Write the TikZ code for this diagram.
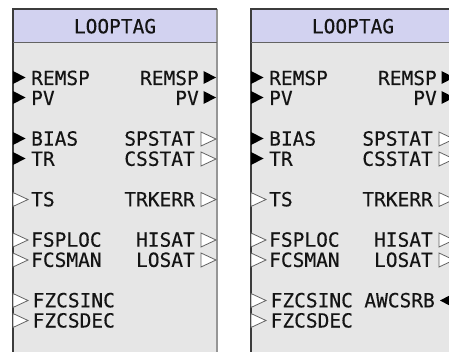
\documentclass[tikz,border=0pt]{standalone}
\usepackage{fontspec}
\newfontfamily\blockfont[FakeBold=0.3]{DejaVu Sans Mono}
\definecolor{hdrcol}{RGB}{210,210,240}
\definecolor{bodycol}{RGB}{230,230,230}
\definecolor{edgedark}{RGB}{60,60,60}
\definecolor{edgelight}{RGB}{150,150,150}
\definecolor{markgray}{RGB}{100,100,100}
\tikzset{
  lbl/.style={font=\blockfont\fontsize{19.5}{19.5}\selectfont, inner sep=0pt, text=black!92},
  inlbl/.style={lbl, anchor=base west},
  outlbl/.style={lbl, anchor=base east},
  titlelbl/.style={lbl, anchor=base},
  fullmark/.style={fill=black, draw=none},
  openmark/.style={fill=white, draw=markgray, line width=0.8pt, line join=miter},
}
\newcommand{\finmark}[1]{\path[fullmark] (0,#1-6.5) -- (12.5,#1) -- (0,#1+6.5) -- cycle;}
\newcommand{\oinmark}[1]{\path[openmark] (0,#1-7) -- (15,#1) -- (0,#1+7) -- cycle;}
\newcommand{\foutmark}[1]{\path[fullmark] (190.5,#1-6.5) -- (203,#1) -- (190.5,#1+6.5) -- cycle;}
\newcommand{\ooutmark}[1]{\path[openmark] (188,#1-7) -- (203,#1) -- (188,#1+7) -- cycle;}
\begin{document}
\begin{tikzpicture}[x=1pt,y=-1pt]
\clip (0,0) rectangle (449,352);
\fill[white] (0,0) rectangle (449,352);
\foreach \bx/\nm in {13/a,251/b}{
\begin{scope}[shift={(\bx,0)}]
  \fill[bodycol] (0,9) rectangle (204,370);
  \fill[hdrcol] (0,9) rectangle (204,43);
  \draw[edgelight, line width=1.2pt] (204,9) -- (204,370);
  \draw[edgedark, line width=1.2pt] (0,370) -- (0,9) -- (204,9);
  \draw[edgedark!80, line width=1pt] (0,43) -- (204,43);
  \node[titlelbl] (title\nm) at (102,33.3) {LOOPTAG};
  % inputs
  \finmark{77.5}  \node[inlbl] (inremsp\nm) at (18,85) {REMSP};
  \finmark{97.5}  \node[inlbl] (inpv\nm) at (18,105) {PV};
  \finmark{138.5} \node[inlbl] (inbias\nm) at (18,145.6) {BIAS};
  \finmark{158.5} \node[inlbl] (intr\nm) at (18,165.8) {TR};
  \oinmark{199.5} \node[inlbl] (ints\nm) at (18,206.3) {TS};
  \oinmark{240} \node[inlbl] (infsploc\nm) at (18,246.7) {FSPLOC};
  \oinmark{260} \node[inlbl] (infcsman\nm) at (18,266.9) {FCSMAN};
  \oinmark{300.5} \node[inlbl] (infzcsinc\nm) at (19.5,307.3) {FZCSINC};
  \oinmark{320.5} \node[inlbl] (infzcsdec\nm) at (19.5,327.5) {FZCSDEC};
  % outputs
  \foutmark{77.5}  \node[outlbl] (outremsp\nm) at (186,85) {REMSP};
  \foutmark{97.5}  \node[outlbl] (outpv\nm) at (186,105) {PV};
  \ooutmark{139} \node[outlbl] (outspstat\nm) at (182,145.6) {SPSTAT};
  \ooutmark{159} \node[outlbl] (outcsstat\nm) at (182,165.8) {CSSTAT};
  \ooutmark{199.5} \node[outlbl] (outtrkerr\nm) at (182,206.3) {TRKERR};
  \ooutmark{240} \node[outlbl] (outhisat\nm) at (182,246.7) {HISAT};
  \ooutmark{260} \node[outlbl] (outlosat\nm) at (182,266.9) {LOSAT};
\end{scope}
}
\begin{scope}[shift={(251,0)}]
  \path[fullmark] (189,300.5) -- (201,294.2) -- (201,306.8) -- cycle;
  \node[outlbl] (outawcsrb) at (184,307.3) {AWCSRB};
\end{scope}
\end{tikzpicture}
\end{document}
